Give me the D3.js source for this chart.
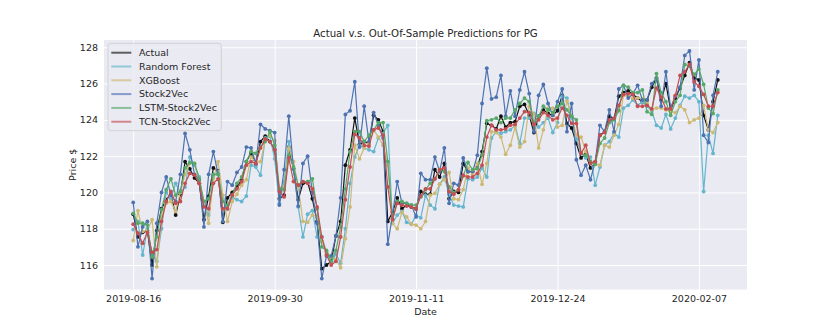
<!DOCTYPE html>
<html>
<head>
<meta charset="utf-8">
<script src="https://cdn.jsdelivr.net/npm/d3@7"></script>
<style>
  body { margin: 0; background: #fff; }
  text { font-family: "DejaVu Sans", sans-serif; fill: #262626; }
</style>
</head>
<body>
<svg id="chart" width="830" height="332"></svg>
<script>
const width = 830, height = 332;
const margin = { left: 104, right: 83, top: 40, bottom: 42.5 };

// tick labels (trading-day index every 30 days)
const tickIndex = [0, 30, 60, 90, 120];
const tickLabels = ["2019-08-16", "2019-09-30", "2019-11-11", "2019-12-24", "2020-02-07"];
const yTicks = [116, 118, 120, 122, 124, 126, 128];

const seriesNames = ["Actual", "Random Forest", "XGBoost", "Stock2Vec", "LSTM-Stock2Vec", "TCN-Stock2Vec"];
const seriesColors = ["#111111", "#64B5CD", "#CCB974", "#4C72B0", "#55A868", "#C44E52"];

const actual = [118.8,117.55,117.8,117.9,116.0,117.9,119.1,119.6,119.9,118.75,119.9,121.7,121.3,120.8,120.5,118.5,119.8,121.35,121.2,118.35,
  119.7,120.0,120.3,120.7,121.7,122.15,121.55,122.8,123.1,122.8,122.35,119.65,119.85,122.5,121.3,119.6,120.5,120.55,119.65,118.4,
  115.8,116.0,116.2,117.6,118.4,121.5,122.35,124.1,122.65,122.8,122.7,124.25,124.0,123.35,118.4,118.9,119.7,119.1,119.3,119.2,
  119.1,120.05,119.9,119.9,121.25,120.85,121.6,119.65,120.05,120.0,121.6,121.15,121.15,121.4,122.25,123.8,123.7,123.5,124.2,123.6,
  123.85,123.9,124.75,124.85,124.25,123.3,124.2,124.55,124.35,124.25,124.5,125.35,123.8,123.55,122.7,121.9,122.1,121.35,121.6,123.15,
  123.35,124.2,124.05,125.3,125.5,125.6,125.4,125.2,125.0,125.1,125.8,126.3,125.1,126.0,124.55,125.2,125.75,126.45,127.15,126.3,
  126.2,124.25,123.45,125.0,126.2];

const randomForest = [117.95,118.4,116.55,118.0,116.6,116.2,118.0,120.0,119.65,120.5,120.0,120.3,121.95,121.5,120.85,119.3,118.75,120.85,121.15,119.65,
  119.1,119.7,119.6,119.5,119.8,121.5,121.4,120.95,123.0,123.1,121.85,119.4,120.6,122.8,121.3,119.2,117.55,118.8,119.0,117.55,
  117.55,116.7,116.1,116.6,116.1,118.0,120.5,121.95,122.6,122.45,122.35,122.25,123.0,123.25,123.7,118.3,118.75,118.95,118.35,118.25,
  118.75,118.6,119.85,119.3,119.1,120.45,120.85,119.9,119.3,119.25,119.2,120.75,120.7,120.85,121.35,120.85,123.0,123.35,123.25,123.35,
  123.45,123.7,122.7,124.1,124.1,124.35,123.6,123.85,124.1,123.3,123.85,125.3,125.2,124.1,122.95,122.15,121.9,121.95,120.4,121.4,
  122.6,122.8,123.25,123.05,124.65,124.8,125.1,124.8,125.0,124.75,124.45,123.7,123.55,124.3,123.5,124.1,124.8,125.3,125.2,125.35,
  125.0,120.05,123.15,122.15,124.25];

const xgboost = [117.35,119.0,117.85,117.9,118.5,115.9,118.65,119.4,119.5,118.95,120.0,121.0,121.6,121.6,120.6,119.5,118.3,120.75,121.7,119.85,
  118.4,119.5,119.9,120.4,120.7,121.95,121.7,121.7,122.85,123.15,122.85,120.25,120.3,122.45,121.7,120.35,118.4,118.35,118.75,118.65,
  117.3,116.75,116.45,116.3,115.85,117.45,119.2,122.6,121.85,122.45,122.7,123.45,123.05,122.6,121.5,118.3,118.0,118.9,118.65,118.25,
  118.2,118.0,118.4,119.85,119.95,120.45,120.7,121.1,119.65,119.6,120.15,121.35,121.0,121.6,120.45,121.6,123.35,123.3,123.05,122.1,
  122.6,123.6,122.5,122.8,124.75,124.3,122.45,123.45,124.65,124.65,123.6,123.7,125.05,124.2,123.15,123.05,122.25,121.7,121.55,121.5,
  122.6,122.5,123.15,123.75,125.35,125.3,125.2,125.2,125.15,124.9,124.55,124.65,124.65,124.55,124.45,124.4,124.75,124.55,123.85,124.0,
  124.1,124.8,123.45,123.3,123.85];

const stock2vec = [119.45,117.0,118.1,118.4,115.25,118.3,120.0,120.85,119.85,119.5,121.0,123.25,122.35,121.0,120.7,118.1,121.0,122.25,121.0,118.4,
  120.6,120.4,121.1,121.4,122.5,122.45,121.6,123.75,123.5,123.4,123.3,119.3,121.25,124.2,121.3,119.25,121.6,122.0,120.0,118.3,
  115.25,116.5,116.5,117.6,119.7,124.3,124.5,126.1,122.5,124.75,122.8,124.4,123.7,123.0,117.15,118.75,120.6,119.4,119.4,119.3,
  118.65,121.05,120.7,120.7,121.95,121.15,122.45,119.4,120.5,120.4,121.9,121.15,121.15,122.05,124.9,126.85,125.15,125.25,126.45,124.2,
  125.6,124.2,125.65,126.65,125.45,123.35,125.35,125.95,124.9,124.25,125.0,125.7,123.35,124.9,121.8,120.95,121.5,120.7,121.7,123.7,
  123.35,124.55,123.35,125.7,125.9,125.2,125.45,125.9,125.1,125.1,126.0,126.3,124.75,126.65,124.65,125.3,125.8,127.55,127.8,125.65,
  127.3,123.15,122.75,125.35,126.65];

const lstm = [118.85,118.3,118.3,118.2,116.45,117.55,119.05,120.15,120.75,119.85,120.05,121.35,121.65,121.6,120.75,119.5,119.65,121.0,121.0,119.5,
  119.3,119.85,120.5,120.85,121.7,122.25,122.15,122.5,122.8,123.35,122.6,120.2,120.15,122.05,121.4,120.4,120.6,120.6,120.75,119.1,
  117.0,116.8,116.2,116.8,118.1,120.2,122.25,123.35,123.35,122.8,123.15,123.45,123.85,123.85,121.7,118.55,119.5,119.5,119.4,119.3,
  119.3,119.75,120.15,120.5,120.75,121.25,121.15,120.3,120.0,120.15,120.9,121.65,121.25,121.3,122.05,123.95,124.0,124.1,123.85,124.1,
  124.1,124.55,124.9,125.2,125.0,123.85,124.2,124.75,124.55,124.4,124.75,124.9,124.55,124.2,124.0,122.15,122.05,121.7,121.55,122.7,
  123.0,123.85,124.0,124.5,125.9,125.8,125.5,125.5,125.65,124.45,124.3,126.55,125.5,125.0,124.25,125.0,125.35,127.05,126.95,126.5,
  126.8,125.95,124.65,124.35,125.65];

const tcn = [118.25,117.75,117.2,117.8,116.7,116.85,118.4,119.5,120.05,119.4,119.5,120.5,121.05,120.95,120.5,119.2,119.1,120.5,120.75,119.1,
  119.1,119.85,120.2,120.6,121.5,121.7,121.6,122.45,122.95,122.8,122.35,120.05,119.75,121.9,120.6,120.4,120.6,120.5,120.2,119.2,
  117.55,116.55,116.0,116.2,117.55,119.6,121.4,123.2,123.0,122.6,122.55,123.45,123.55,123.15,120.3,118.5,119.4,119.3,119.25,119.2,
  119.1,119.8,120.2,120.2,120.75,121.25,121.35,120.05,119.9,120.15,120.95,120.85,120.85,121.05,121.5,123.05,123.7,123.45,123.45,123.5,
  123.7,123.75,124.1,124.45,124.4,123.75,124.0,124.4,124.25,124.0,124.1,124.65,124.25,123.8,123.8,122.15,122.6,121.6,121.7,123.15,
  123.3,124.0,124.1,124.8,125.4,125.45,125.4,124.75,124.75,124.8,124.6,125.75,125.25,124.6,124.6,125.35,126.45,126.65,127.05,126.1,
  125.85,125.4,124.75,124.75,125.5];

const allSeries = [actual, randomForest, xgboost, stock2vec, lstm, tcn];

const svg = d3.select("#chart");
svg.append("rect").attr("width", width).attr("height", height).attr("fill", "#fff");

const n = actual.length;
const pad = (n - 1) * 0.05;
const x = d3.scaleLinear().domain([-pad, n - 1 + pad]).range([margin.left, width - margin.right]);
const y = d3.scaleLinear().domain([114.65, 128.40]).range([height - margin.bottom, margin.top]);

const plotW = width - margin.left - margin.right;
const plotH = height - margin.top - margin.bottom;

svg.append("rect")
  .attr("x", margin.left).attr("y", margin.top)
  .attr("width", plotW).attr("height", plotH)
  .attr("fill", "#EAEAF2");

// axes with white grid
const yAxis = svg.append("g")
  .attr("transform", `translate(${margin.left},0)`)
  .call(d3.axisLeft(y).tickValues(yTicks).tickSize(-plotW).tickPadding(6).tickFormat(d3.format("d")));
const xAxis = svg.append("g")
  .attr("transform", `translate(0,${height - margin.bottom})`)
  .call(d3.axisBottom(x).tickValues(tickIndex).tickSize(-plotH).tickPadding(6)
    .tickFormat((d, i) => tickLabels[i]));

[xAxis, yAxis].forEach(g => {
  g.select(".domain").remove();
  g.selectAll(".tick line").attr("stroke", "#fff").attr("stroke-width", 1);
  g.selectAll(".tick text").attr("font-size", 9.5).attr("fill", "#262626")
    .attr("font-family", "DejaVu Sans, sans-serif");
});

// series
const line = d3.line().x((d, i) => x(i)).y(d => y(d));
allSeries.forEach((data, k) => {
  const g = svg.append("g");
  g.append("path").datum(data)
    .attr("d", line).attr("fill", "none")
    .attr("stroke", seriesColors[k]).attr("stroke-width", 1.2);
  g.selectAll("circle").data(data).join("circle")
    .attr("cx", (d, i) => x(i)).attr("cy", d => y(d)).attr("r", 1.9)
    .attr("fill", seriesColors[k]);
});

// title and labels
svg.append("text").attr("x", margin.left + plotW / 2).attr("y", 33.7).attr("dy", "0.35em")
  .attr("text-anchor", "middle").attr("font-size", 10.2)
  .text("Actual v.s. Out-Of-Sample Predictions for PG");
svg.append("text").attr("x", margin.left + plotW / 2).attr("y", 311.7).attr("dy", "0.35em")
  .attr("text-anchor", "middle").attr("font-size", 9.5).text("Date");
svg.append("text").attr("transform", `translate(72.5,${margin.top + plotH / 2}) rotate(-90)`)
  .attr("dy", "0.35em").attr("text-anchor", "middle").attr("font-size", 9.5).text("Price $");

// legend
const legend = svg.append("g");
legend.append("rect")
  .attr("x", 108).attr("y", 43.3).attr("width", 113.3).attr("height", 87.4).attr("rx", 2.5)
  .attr("fill", "#EAEAF2").attr("fill-opacity", 0.8).attr("stroke", "#cccccc").attr("stroke-width", 0.8);
seriesNames.forEach((name, k) => {
  const cy = 52.7 + k * 13.8;
  legend.append("line").attr("x1", 111.3).attr("x2", 131.3).attr("y1", cy).attr("y2", cy)
    .attr("stroke", seriesColors[k]).attr("stroke-width", 2).attr("stroke-opacity", 0.65);
  legend.append("text").attr("x", 139).attr("y", cy).attr("dy", "0.35em")
    .attr("font-size", 9.5).text(name);
});
</script>
</body>
</html>
